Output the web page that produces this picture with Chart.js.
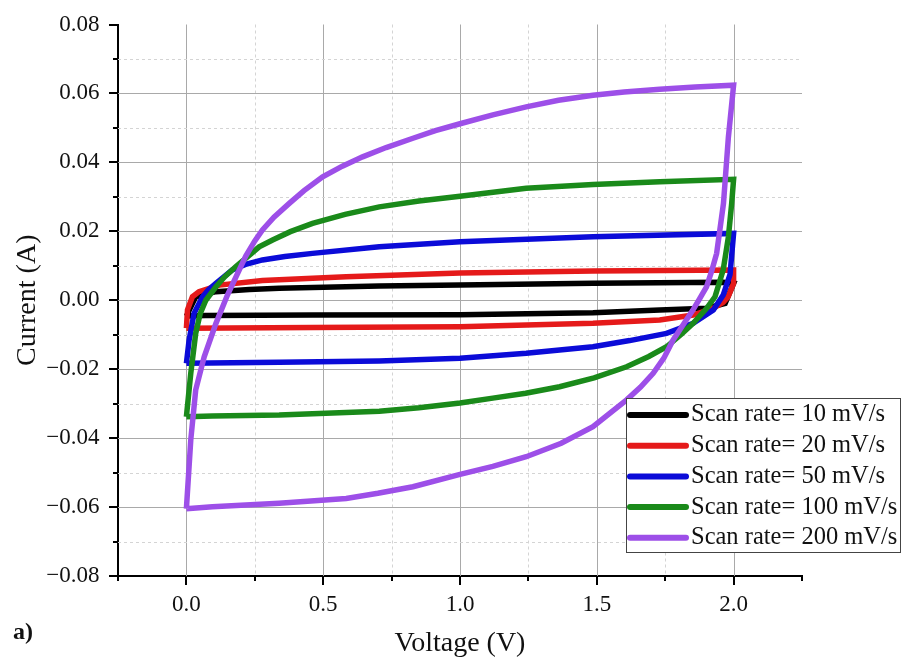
<!DOCTYPE html>
<html>
<head>
<meta charset="utf-8">
<script src="https://cdn.jsdelivr.net/npm/chart.js@4"></script>
<style>
  body { margin: 0; background: #fff; }
</style>
</head>
<body>
<canvas id="cvChart" width="903" height="664"></canvas>
<script>
// Scan rate labels and colours
const scanRates = ['Scan rate= 10 mV/s', 'Scan rate= 20 mV/s', 'Scan rate= 50 mV/s', 'Scan rate= 100 mV/s', 'Scan rate= 200 mV/s'];
const lineColors = ['#000000', '#e51a1a', '#0b0bd8', '#1a8a1a', '#9d4fe8'];

const v10 = [0, 0.034, 0.108, 0.23, 0.339, 0.705, 1.0, 1.486, 1.962, 2.0, 1.969, 1.901, 1.73, 1.486, 1.0, 0.461, 0.07, 0];
const i10 = [-0.0046, 0.001, 0.0025, 0.0031, 0.0035, 0.0041, 0.0044, 0.0049, 0.0052, 0.0049, -0.0009, -0.0023, -0.0028, -0.0036, -0.0042, -0.0043, -0.0044, -0.0046];

const v20 = [0, 0.004, 0.022, 0.046, 0.12, 0.278, 0.584, 1.0, 1.486, 2.0, 2.0, 1.98, 1.962, 1.926, 1.852, 1.73, 1.486, 1.0, 0.461, 0];
const i20 = [-0.0081, -0.0028, 0.001, 0.0025, 0.0044, 0.0057, 0.0068, 0.0079, 0.0085, 0.0088, 0.0049, 0.001, -0.0006, -0.0023, -0.0043, -0.0057, -0.0067, -0.0077, -0.0079, -0.0081];

const v50 = [0, 0.01, 0.028, 0.059, 0.08, 0.108, 0.168, 0.22, 0.278, 0.36, 0.461, 0.705, 1.0, 1.486, 2.0, 1.987, 1.962, 1.926, 1.852, 1.755, 1.62, 1.486, 1.242, 1.0, 0.705, 0.339, 0];
const i50 = [-0.0183, -0.0115, -0.0038, 0.001, 0.003, 0.0049, 0.0088, 0.0105, 0.0117, 0.0127, 0.0136, 0.0155, 0.017, 0.0184, 0.0194, 0.0075, 0.0015, -0.0028, -0.0067, -0.0096, -0.0117, -0.0135, -0.0154, -0.0168, -0.0176, -0.018, -0.0183];

const v100 = [0, 0.016, 0.034, 0.05, 0.071, 0.108, 0.14, 0.18, 0.266, 0.315, 0.38, 0.461, 0.58, 0.705, 0.85, 1.0, 1.242, 1.486, 1.73, 2.0, 1.993, 1.981, 1.962, 1.932, 1.9, 1.852, 1.81, 1.755, 1.69, 1.609, 1.49, 1.364, 1.24, 1.12, 1.0, 0.85, 0.705, 0.339, 0.095, 0];
const i100 = [-0.0338, -0.0212, -0.0096, -0.004, 0, 0.0039, 0.0068, 0.0097, 0.0155, 0.0175, 0.0199, 0.0223, 0.0249, 0.0271, 0.0288, 0.0302, 0.0325, 0.0336, 0.0344, 0.0351, 0.0281, 0.0184, 0.0088, 0.001, -0.0025, -0.0067, -0.0098, -0.0135, -0.0163, -0.0193, -0.0225, -0.0251, -0.027, -0.0284, -0.0298, -0.0312, -0.0322, -0.0333, -0.0336, -0.0338];

const v200 = [0, 0.016, 0.034, 0.065, 0.108, 0.15, 0.217, 0.25, 0.278, 0.32, 0.376, 0.43, 0.498, 0.57, 0.644, 0.73, 0.828, 0.91, 1.0, 1.12, 1.242, 1.36, 1.486, 1.6, 1.73, 1.86, 2.0,
              1.981, 1.963, 1.938, 1.92, 1.901, 1.875, 1.85, 1.815, 1.779, 1.745, 1.706, 1.66, 1.609, 1.486, 1.37, 1.242, 1.12, 1.0, 0.828, 0.7, 0.584, 0.339, 0.095, 0];
const i200 = [-0.0605, -0.0405, -0.026, -0.0164, -0.0067, 0.0015, 0.0128, 0.0172, 0.0204, 0.0241, 0.0281, 0.0318, 0.0358, 0.0389, 0.0416, 0.0443, 0.047, 0.0492, 0.0512, 0.0538, 0.0561, 0.058, 0.0595, 0.0604, 0.0612, 0.0619, 0.0624,
              0.0474, 0.0281, 0.0136, 0.0085, 0.0039, 0.0003, -0.003, -0.0072, -0.0115, -0.0168, -0.0212, -0.0252, -0.0289, -0.0367, -0.0415, -0.0454, -0.0482, -0.0505, -0.0541, -0.056, -0.0575, -0.0589, -0.0599, -0.0605];

const voltages = [v10, v20, v50, v100, v200];
const currents = [i10, i20, i50, i100, i200];

const serif = '"Liberation Serif", "Times New Roman", serif';

function isMajor(v, step) {
    return Math.abs(v / step - Math.round(v / step)) < 1e-6;
}

// Dashed minor / solid major grid lines behind the curves
const gridLines = {
    id: 'gridLines',
    beforeDatasetsDraw(chart) {
        const { ctx, chartArea: a, scales: { x, y } } = chart;
        ctx.save();
        ctx.lineWidth = 1;
        x.ticks.forEach(t => {
            if (t.value <= x.min + 1e-9 || t.value >= x.max - 1e-9) return;
            const px = Math.round(x.getPixelForValue(t.value)) + 0.5;
            const major = isMajor(t.value, 0.5);
            ctx.strokeStyle = major ? '#a9a9a9' : '#d4d4d4';
            ctx.setLineDash(major ? [] : [3, 3]);
            ctx.beginPath();
            ctx.moveTo(px, a.top);
            ctx.lineTo(px, a.bottom);
            ctx.stroke();
        });
        y.ticks.forEach(t => {
            if (t.value <= y.min + 1e-9 || t.value >= y.max - 1e-9) return;
            const py = Math.round(y.getPixelForValue(t.value)) + 0.5;
            const major = isMajor(t.value, 0.02);
            ctx.strokeStyle = major ? '#a9a9a9' : '#d4d4d4';
            ctx.setLineDash(major ? [] : [3, 3]);
            ctx.beginPath();
            ctx.moveTo(a.left, py);
            ctx.lineTo(a.right, py);
            ctx.stroke();
        });
        ctx.restore();
    }
};

// Outward tick marks, legend box and panel letter
const extras = {
    id: 'extras',
    afterDraw(chart) {
        const { ctx, chartArea: a, scales: { x, y } } = chart;
        ctx.save();
        ctx.strokeStyle = '#000';
        ctx.lineWidth = 2;
        x.ticks.forEach(t => {
            const px = Math.round(x.getPixelForValue(t.value));
            const len = isMajor(t.value, 0.5) ? 9 : 5;
            ctx.beginPath();
            ctx.moveTo(px, a.bottom);
            ctx.lineTo(px, a.bottom + len);
            ctx.stroke();
        });
        y.ticks.forEach(t => {
            const py = Math.round(y.getPixelForValue(t.value));
            const len = isMajor(t.value, 0.02) ? 9 : 5;
            ctx.beginPath();
            ctx.moveTo(a.left, py);
            ctx.lineTo(a.left - len, py);
            ctx.stroke();
        });

        // legend
        ctx.fillStyle = '#fff';
        ctx.fillRect(626, 398, 275, 155);
        ctx.strokeStyle = '#444';
        ctx.lineWidth = 1;
        ctx.strokeRect(626.5, 398.5, 274, 154);
        ctx.font = '24.5px ' + serif;
        ctx.textBaseline = 'middle';
        chart.data.datasets.forEach((ds, k) => {
            const ly = 415 + k * 30.7;
            ctx.strokeStyle = ds.borderColor;
            ctx.lineWidth = 6;
            ctx.lineCap = 'round';
            ctx.beginPath();
            ctx.moveTo(630, ly);
            ctx.lineTo(686, ly);
            ctx.stroke();
            ctx.fillStyle = '#111';
            ctx.fillText(ds.label, 691, ly);
        });

        ctx.font = 'bold 24px ' + serif;
        ctx.fillStyle = '#111';
        ctx.fillText('a)', 13, 633);
        ctx.restore();
    }
};

const datasets = scanRates.map((label, k) => ({
    label: label,
    data: voltages[k].map((v, j) => ({ x: v, y: currents[k][j] })),
    borderColor: lineColors[k],
    backgroundColor: lineColors[k],
    borderWidth: 5.5,
    showLine: true,
    pointRadius: 0,
    fill: false,
    tension: 0,
    order: scanRates.length - k
}));

const ctx = document.getElementById('cvChart').getContext('2d');
window.cvChart = new Chart(ctx, {
    type: 'scatter',
    data: { datasets: datasets },
    options: {
        responsive: false,
        animation: false,
        devicePixelRatio: 1,
        layout: { padding: { left: 0, top: 24.5, right: 101, bottom: 0 } },
        plugins: {
            legend: { display: false },
            tooltip: { enabled: false }
        },
        scales: {
            x: {
                type: 'linear',
                min: -0.25,
                max: 2.25,
                grid: { display: false },
                border: { display: true, color: '#000', width: 2 },
                ticks: {
                    stepSize: 0.25,
                    maxTicksLimit: 20,
                    autoSkip: false,
                    maxRotation: 0,
                    padding: 7,
                    color: '#111',
                    font: { family: serif, size: 23 },
                    callback: v => (isMajor(v, 0.5) && v > -1e-9) ? (Math.abs(v) < 1e-9 ? 0 : v).toFixed(1) : ''
                },
                title: {
                    display: true,
                    text: 'Voltage (V)',
                    color: '#111',
                    font: { family: serif, size: 28 },
                    padding: { top: 0, bottom: 4 }
                },
                afterFit: scale => { scale.height = 88; }
            },
            y: {
                type: 'linear',
                min: -0.08,
                max: 0.08,
                grid: { display: false },
                border: { display: true, color: '#000', width: 2 },
                ticks: {
                    stepSize: 0.01,
                    maxTicksLimit: 20,
                    autoSkip: false,
                    padding: 10.5,
                    color: '#111',
                    font: { family: serif, size: 23 },
                    callback: v => {
                        if (!isMajor(v, 0.02)) return '';
                        return (Math.abs(v) < 1e-9 ? 0 : v).toFixed(2).replace('-', '\u2212');
                    }
                },
                title: {
                    display: true,
                    text: 'Current (A)',
                    color: '#111',
                    font: { family: serif, size: 28 },
                    padding: { top: 11, bottom: 0 }
                },
                afterFit: scale => { scale.width = 118; }
            }
        }
    },
    plugins: [gridLines, extras]
});
</script>
</body>
</html>
